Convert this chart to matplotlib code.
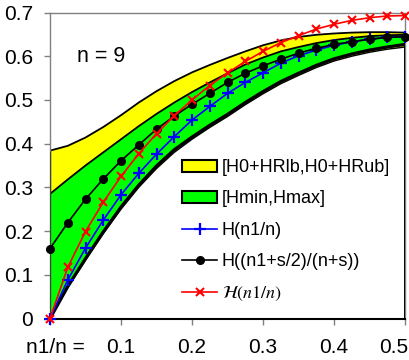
import matplotlib
matplotlib.use('Agg')
import matplotlib.pyplot as plt
import matplotlib.transforms as mtransforms
from matplotlib.patches import Patch
from matplotlib.lines import Line2D

plt.rcParams['font.family'] = ['Liberation Sans', 'DejaVu Sans']
plt.rcParams['mathtext.fontset'] = 'stix'

# ---- data ----
p = [0, 0.025, 0.05, 0.075, 0.1, 0.125, 0.15, 0.175, 0.2, 0.225, 0.25,
     0.275, 0.3, 0.325, 0.35, 0.375, 0.4, 0.425, 0.45, 0.475, 0.5]

h_ub = [0.384, 0.395, 0.414, 0.438, 0.465, 0.494, 0.52, 0.543, 0.563, 0.58, 0.596,
        0.611, 0.625, 0.636, 0.644, 0.649, 0.652, 0.654, 0.655, 0.655, 0.654]
h_lb = [0, 0.071, 0.133, 0.194, 0.25, 0.3, 0.343, 0.38, 0.41, 0.437, 0.462,
        0.489, 0.514, 0.537, 0.556, 0.574, 0.589, 0.6, 0.609, 0.616, 0.621]
h_max = [0.285, 0.318, 0.35, 0.38, 0.41, 0.44, 0.468, 0.494, 0.518, 0.54, 0.561,
         0.581, 0.597, 0.611, 0.621, 0.63, 0.637, 0.642, 0.646, 0.648, 0.649]
h_min = [0, 0.073, 0.137, 0.198, 0.255, 0.305, 0.349, 0.386, 0.415, 0.442, 0.467,
         0.494, 0.519, 0.542, 0.561, 0.579, 0.594, 0.605, 0.614, 0.621, 0.627]
h_plain = [0, 0.088, 0.161, 0.225, 0.283, 0.332, 0.376, 0.416, 0.454, 0.485, 0.515,
           0.540, 0.562, 0.584, 0.601, 0.614, 0.625, 0.633, 0.639, 0.643, 0.645]
h_shrunk = [0.160, 0.219, 0.273, 0.319, 0.361, 0.397, 0.433, 0.463, 0.490, 0.515, 0.540,
            0.561, 0.578, 0.593, 0.607, 0.618, 0.627, 0.633, 0.639, 0.643, 0.645]
h_true = [0, 0.117, 0.199, 0.266, 0.325, 0.377, 0.423, 0.464, 0.500, 0.533, 0.562,
          0.588, 0.611, 0.631, 0.647, 0.662, 0.673, 0.682, 0.688, 0.692, 0.693]

x_ticks = [0, 0.1, 0.2, 0.3, 0.4, 0.5]
x_ticklabels = ['n1/n =', '0.1', '0.2', '0.3', '0.4', '0.5']
y_ticks = [0, 0.1, 0.2, 0.3, 0.4, 0.5, 0.6, 0.7]
y_ticklabels = ['0', '0.1', '0.2', '0.3', '0.4', '0.5', '0.6', '0.7']

labels = ['[H0+HRlb,H0+HRub]', '[Hmin,Hmax]', 'H(n1/n)',
          'H((n1+s/2)/(n+s))', r'$\mathcal{H}(n1/n)$']

FS_TICK = 15
FS_LEG = 13
fig = plt.figure(figsize=(4.09, 3.60), dpi=100)
ax = fig.add_axes([50 / 409, 41.5 / 360, 355 / 409, 306 / 360])

# bands
ax.fill_between(p, h_lb, h_ub, facecolor='#FFFF00', edgecolor='none', zorder=1)
ax.plot(p, h_ub, color='black', lw=1.3, zorder=2)
ax.plot(p, h_lb, color='black', lw=1.0, zorder=2)
ax.fill_between(p, h_min, h_max, facecolor='#00FF00', edgecolor='none', zorder=3)
ax.plot(p, h_max, color='black', lw=1.3, zorder=4)
ax.plot(p, h_min, color='black', lw=2.3, zorder=4)
ax.vlines([p[-1]], [0], [h_ub[-1]], color='black', lw=1.4, zorder=4)
ax.vlines([p[0]], [0], [h_ub[0]], color='#404040', lw=1.0, zorder=4)

# curves
ax.plot(p, h_plain, color='#0000FF', lw=1.2, marker='+', ms=8, mew=1.6,
        zorder=6, clip_on=False)
ax.plot(p, h_shrunk, color='black', lw=1.2, marker='o', ms=5.5,
        zorder=7, clip_on=False)
ax.plot(p, h_true, color='#FF0000', lw=1.2, marker='x', ms=6, mew=1.5,
        zorder=8, clip_on=False)

ax.set_xlim(0, 0.5)
ax.set_ylim(0, 0.7)
ax.set_xticks(x_ticks)
ax.set_xticklabels(x_ticklabels, fontsize=FS_TICK)
ax.set_yticks(y_ticks)
ax.set_yticklabels(y_ticklabels, fontsize=FS_TICK)
ax.tick_params(axis='both', direction='out', length=4, width=1, color='#808080')
ax.tick_params(axis='x', pad=10)
ax.tick_params(axis='y', pad=8)
xlabs = ax.get_xticklabels()
xlabs[0].set_transform(xlabs[0].get_transform() +
                       mtransforms.ScaledTranslation(0.055, 0, fig.dpi_scale_trans))
xlabs[-1].set_transform(xlabs[-1].get_transform() +
                        mtransforms.ScaledTranslation(-0.11, 0, fig.dpi_scale_trans))

for side in ['top', 'left', 'right']:
    ax.spines[side].set_color('#808080')
    ax.spines[side].set_linewidth(1.0)
ax.spines['bottom'].set_color('black')
ax.spines['bottom'].set_linewidth(1.5)

ax.text(0.0375, 0.6, 'n = 9', fontsize=15.5, va='center', ha='left')

handles = [
    Patch(facecolor='#FFFF00', edgecolor='black', lw=1.5),
    Patch(facecolor='#00FF00', edgecolor='black', lw=1.5),
    Line2D([], [], color='#0000FF', lw=1.2, marker='+', ms=8, mew=1.6),
    Line2D([], [], color='black', lw=1.2, marker='o', ms=5.5),
    Line2D([], [], color='#FF0000', lw=1.2, marker='x', ms=6, mew=1.5),
]
leg = fig.legend(handles, labels, loc='upper left',
                 bbox_to_anchor=(173 / 409, 1 - 150 / 360),
                 bbox_transform=fig.transFigure, frameon=False, fontsize=FS_LEG,
                 borderpad=0, handlelength=1.95, handleheight=0.65,
                 handletextpad=0.25, labelspacing=0.8)

fig.savefig('out.png', dpi=100)
